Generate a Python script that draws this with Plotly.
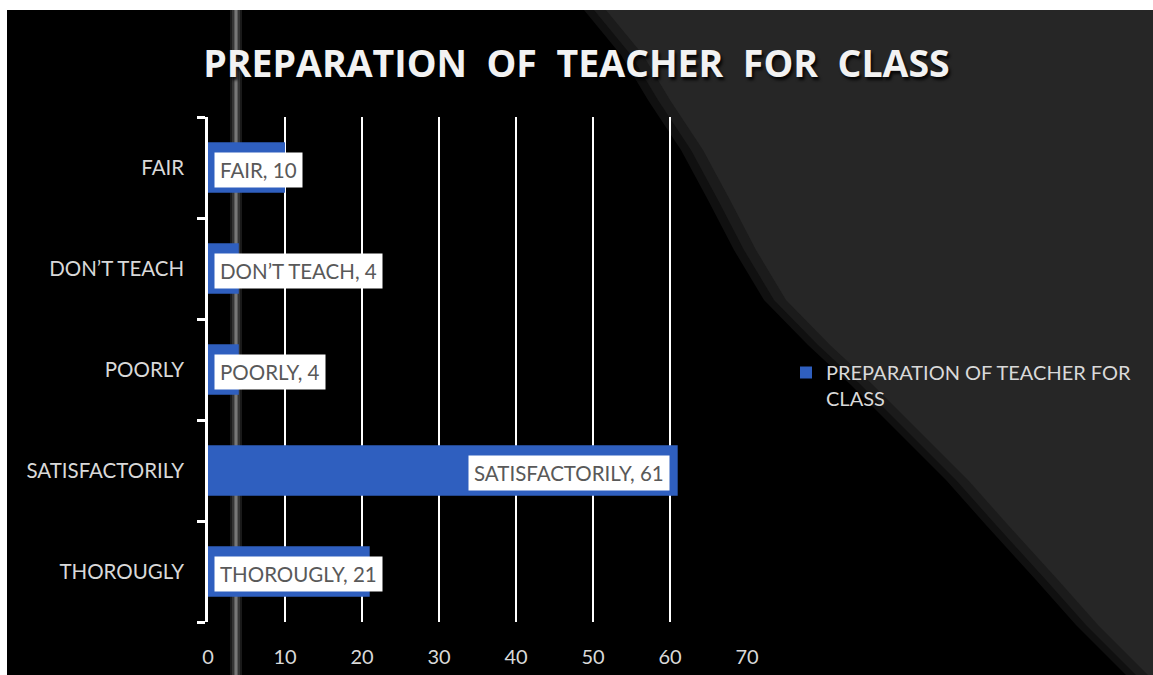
import plotly.graph_objects as go

# Survey responses: how well teachers prepare for class
categories = ["THOROUGLY", "SATISFACTORILY", "POORLY", "DON\u2019T TEACH", "FAIR"]
values = [21, 61, 4, 4, 10]
x_ticks = [0, 10, 20, 30, 40, 50, 60, 70]
series_name = "PREPARATION OF TEACHER FOR CLASS"
title_text = "PREPARATION\u00a0 OF\u00a0 TEACHER\u00a0 FOR\u00a0 CLASS"

W, H = 1153, 675
ML, MR, MT, MB = 208, 406, 117, 53
PW, PH = W - ML - MR, H - MT - MB


def px(x):
    return (x - ML) / PW


def py(y):
    return (H - MB - y) / PH


BAR_BLUE = "#2F5FBF"
TEXT_LIGHT = "#D9D9D9"
LABEL_GREY = "#595959"
FONT = "Lato"

fig = go.Figure()
fig.add_trace(go.Bar(
    x=values,
    y=categories,
    orientation="h",
    name=series_name.replace("FOR CLASS", "FOR<br>CLASS"),
    marker=dict(color=BAR_BLUE, line=dict(width=0)),
    width=0.5,
    hoverinfo="x+y",
))

# data labels in white boxes
for cat, val in zip(categories, values):
    inside_end = val > 40
    fig.add_annotation(
        x=val if inside_end else 0,
        y=cat,
        xref="x", yref="y",
        text=f"{cat}, {val}",
        showarrow=False,
        xanchor="right" if inside_end else "left",
        xshift=-8 if inside_end else 6,
        yshift=-2,
        bgcolor="white",
        borderpad=5,
        font=dict(family=FONT, size=20.5, color=LABEL_GREY),
    )

shapes = []

# grey diagonal area on the right of the backdrop
edge = [(598, 10), (635, 55), (662, 100), (695, 150), (722, 200), (748, 250),
        (778, 300), (822, 345), (865, 385), (905, 425), (960, 480), (1000, 525),
        (1050, 580), (1090, 625), (1140, 675)]


def poly(points, dx):
    pts = [(x + dx, y) for x, y in points] + [(W + 5, H + 5), (W + 5, 0)]
    d = "M " + " L ".join(f"{px(x):.5f},{py(y):.5f}" for x, y in pts) + " Z"
    return d


shapes.append(dict(type="path", xref="paper", yref="paper", path=poly(edge, -14),
                   fillcolor="#101010", line=dict(width=0), layer="below"))
shapes.append(dict(type="path", xref="paper", yref="paper", path=poly(edge, -4),
                   fillcolor="#1b1b1b", line=dict(width=0), layer="below"))
shapes.append(dict(type="path", xref="paper", yref="paper", path=poly(edge, 8),
                   fillcolor="#262626", line=dict(width=0), layer="below"))

# soft vertical streak in the backdrop
for (a, b, c) in [(230, 242, "#1a1a1a"), (232, 240, "#353535"), (234, 238, "#5a5a5a"),
                  (235, 237, "#777777")]:
    shapes.append(dict(type="rect", xref="paper", yref="paper",
                       x0=px(a), x1=px(b), y0=py(H + 5), y1=py(0),
                       fillcolor=c, line=dict(width=0), layer="below"))

# white frame strips on top and left edges
shapes.append(dict(type="rect", xref="paper", yref="paper",
                   x0=px(-5), x1=px(W + 5), y0=py(10), y1=py(-5),
                   fillcolor="white", line=dict(width=0), layer="above"))
shapes.append(dict(type="rect", xref="paper", yref="paper",
                   x0=px(-5), x1=px(7), y0=py(H + 5), y1=py(-5),
                   fillcolor="white", line=dict(width=0), layer="above"))

fig.update_layout(
    width=W, height=H,
    margin=dict(l=ML, r=MR, t=MT, b=MB, pad=0, autoexpand=False),
    paper_bgcolor="#000000",
    plot_bgcolor="rgba(0,0,0,0)",
    shapes=shapes,
    title=dict(
        text=title_text,
        x=0.5, xref="container", xanchor="center",
        y=1 - 64 / H, yref="container", yanchor="middle",
        font=dict(family="Open Sans", size=37.5, weight="bold", color="#F2F2F2",
                  shadow="2px 3px 3px rgba(0,0,0,0.85)"),
    ),
    showlegend=True,
    legend=dict(
        x=px(786), y=py(353), xref="paper", yref="paper",
        xanchor="left", yanchor="top",
        bgcolor="rgba(0,0,0,0)",
        font=dict(family=FONT, size=20, color=TEXT_LIGHT),
        valign="top",
        itemwidth=30,
    ),
    bargap=0.5,
    xaxis=dict(
        range=[0, 70],
        tickvals=x_ticks,
        showgrid=True, gridcolor="white", gridwidth=1.5,
        zeroline=False, showline=False,
        ticks="", ticklabelstandoff=21,
        tickfont=dict(family=FONT, size=20, color=TEXT_LIGHT),
        fixedrange=True, automargin=False,
    ),
    yaxis=dict(
        categoryorder="array", categoryarray=categories,
        showgrid=False, zeroline=False,
        showline=True, linecolor="white", linewidth=2.5,
        ticks="outside", ticklen=8, tickwidth=2.5, tickcolor="white",
        tickson="boundaries", ticklabelstandoff=17,
        tickfont=dict(family=FONT, size=20.5, color=TEXT_LIGHT),
        fixedrange=True, automargin=False,
    ),
)

fig.write_html("out.html")
